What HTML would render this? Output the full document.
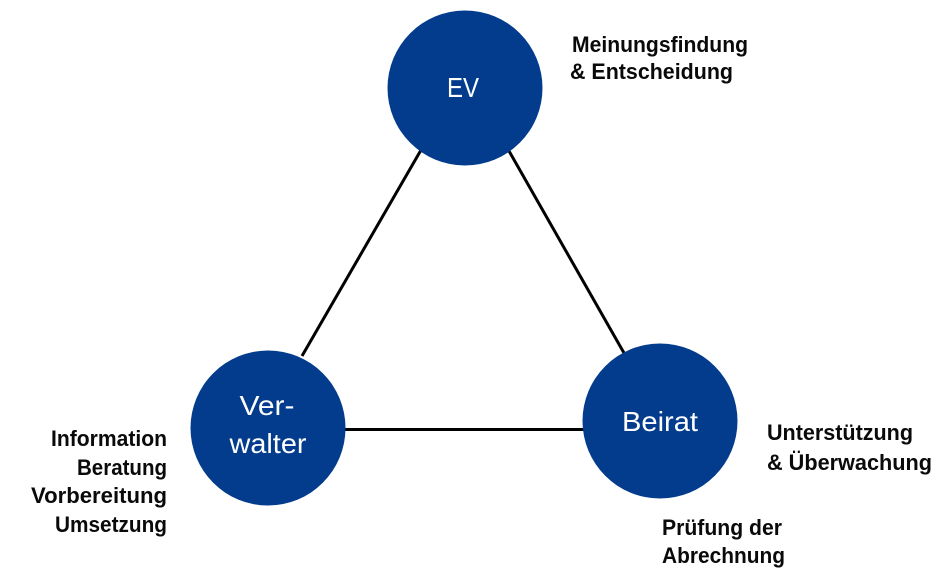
<!DOCTYPE html>
<html>
<head>
<meta charset="utf-8">
<style>
  html,body{margin:0;padding:0;background:#fff;}
  svg{display:block;}
  .lab{font-family:"Liberation Sans",sans-serif;font-weight:bold;font-size:22px;fill:#0a0a0a;}
  .cir{font-family:"Liberation Sans",sans-serif;font-size:28px;fill:#fff;}
</style>
</head>
<body>
<svg width="950" height="583" viewBox="0 0 950 583" xmlns="http://www.w3.org/2000/svg">
  <rect width="950" height="583" fill="#fff"/>
  <!-- connectors -->
  <line x1="421" y1="150" x2="302" y2="356" stroke="#000" stroke-width="3"/>
  <line x1="509" y1="151" x2="624" y2="353" stroke="#000" stroke-width="3"/>
  <line x1="344" y1="429.5" x2="584" y2="429.5" stroke="#000" stroke-width="3"/>
  <!-- circles -->
  <circle cx="465" cy="88" r="77.5" fill="#033c8c"/>
  <circle cx="268" cy="428" r="77.5" fill="#033c8c"/>
  <circle cx="660" cy="421" r="77.5" fill="#033c8c"/>
  <!-- circle labels -->
  <text class="cir" x="463" y="97" text-anchor="middle" textLength="32" lengthAdjust="spacingAndGlyphs">EV</text>
  <text class="cir" x="267" y="415" text-anchor="middle" textLength="55" lengthAdjust="spacingAndGlyphs">Ver-</text>
  <text class="cir" x="268" y="453" text-anchor="middle" textLength="77" lengthAdjust="spacingAndGlyphs">walter</text>
  <text class="cir" x="660" y="431" text-anchor="middle" textLength="76" lengthAdjust="spacingAndGlyphs">Beirat</text>
  <!-- EV label -->
  <text class="lab" x="572" y="52" textLength="176" lengthAdjust="spacingAndGlyphs">Meinungsfindung</text>
  <text class="lab" x="570" y="79" textLength="163" lengthAdjust="spacingAndGlyphs">&amp; Entscheidung</text>
  <!-- Verwalter labels -->
  <text class="lab" x="167" y="446" text-anchor="end" textLength="116" lengthAdjust="spacingAndGlyphs">Information</text>
  <text class="lab" x="167" y="475" text-anchor="end" textLength="90" lengthAdjust="spacingAndGlyphs">Beratung</text>
  <text class="lab" x="167" y="503" text-anchor="end" textLength="136" lengthAdjust="spacingAndGlyphs">Vorbereitung</text>
  <text class="lab" x="167" y="532" text-anchor="end" textLength="112" lengthAdjust="spacingAndGlyphs">Umsetzung</text>
  <!-- Beirat labels -->
  <text class="lab" x="767" y="440" textLength="146" lengthAdjust="spacingAndGlyphs">Unterstützung</text>
  <text class="lab" x="767" y="470" textLength="165" lengthAdjust="spacingAndGlyphs">&amp; Überwachung</text>
  <text class="lab" x="662" y="535" textLength="120" lengthAdjust="spacingAndGlyphs">Prüfung der</text>
  <text class="lab" x="662" y="563" textLength="123" lengthAdjust="spacingAndGlyphs">Abrechnung</text>
</svg>
</body>
</html>
